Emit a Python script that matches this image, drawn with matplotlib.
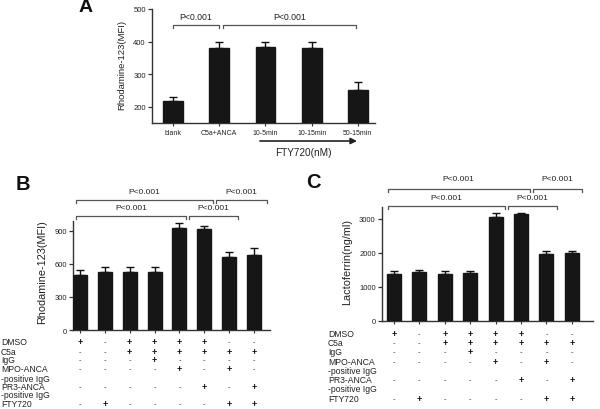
import matplotlib
matplotlib.use("Agg")
import matplotlib.pyplot as plt
from matplotlib.transforms import blended_transform_factory as btf

plt.rcParams['font.family'] = ['Liberation Sans', 'DejaVu Sans']

W, H = 600, 410

# ---------------- data ----------------
a_labels = ['blank', 'C5a+ANCA', '10-5min', '10-15min', '50-15min']
a_means = [218, 380, 384, 379, 252]
a_err = [13, 20, 16, 21, 23]

b_means = [501, 529, 529, 523, 930, 921, 663, 684]
b_err = [40, 42, 42, 45, 46, 24, 45, 61]

c_means = [1390, 1430, 1390, 1420, 3070, 3150, 1980, 1990]
c_err = [70, 80, 70, 60, 100, 30, 80, 70]

row_labels = ['DMSO', 'C5a', 'IgG', 'MPO-ANCA', '-positive IgG', 'PR3-ANCA', '-positive IgG', 'FTY720']
row_signs = [
    ['+', '-', '+', '+', '+', '+', '-', '-'],
    ['-', '-', '+', '+', '+', '+', '+', '+'],
    ['-', '-', '-', '+', '-', '-', '-', '-'],
    ['-', '-', '-', '-', '+', '-', '+', '-'],
    None,
    ['-', '-', '-', '-', '-', '+', '-', '+'],
    None,
    ['-', '+', '-', '-', '-', '-', '+', '+'],
]

p_text = 'P<0.001'
# brackets: (x_start, x_end, y_line, y_tip, y_text)
a_brackets = [(0.0, 1.0, 452, 443, 478), (1.08, 3.96, 452, 443, 478)]
b_brackets = [(-0.15, 5.35, 1179, 1150, 1262), (-0.15, 4.25, 1033, 1005, 1110),
              (4.4, 6.35, 1033, 1005, 1110), (5.47, 7.5, 1179, 1150, 1262)]
c_brackets = [(-0.25, 5.35, 3877, 3790, 4180), (-0.25, 4.37, 3374, 3290, 3625),
              (4.49, 6.42, 3374, 3290, 3625), (5.47, 7.4, 3877, 3790, 4180)]

BAR = '#161616'
TXT = '#222222'


def rect(l, t, r, b):
    return [l / W, 1 - b / H, (r - l) / W, (b - t) / H]


fig = plt.figure(figsize=(W / 100, H / 100), dpi=100)
fig.patch.set_facecolor('white')


def style(ax):
    for s in ['top', 'right']:
        ax.spines[s].set_visible(False)
    for s in ['left', 'bottom']:
        ax.spines[s].set_linewidth(1.0)
        ax.spines[s].set_color('#333333')
    ax.tick_params(axis='y', direction='out', length=3, width=0.9, colors='#333333',
                   labelsize=5.5, labelcolor=TXT, pad=1.5)
    ax.tick_params(axis='x', direction='inout', length=4, width=0.8, colors='#333333',
                   labelsize=5, labelcolor=TXT, pad=2)


def bars(ax, means, err, width):
    x = list(range(len(means)))
    ax.errorbar(x, means, yerr=[[0] * len(means), err], fmt='none', ecolor='#111111',
                elinewidth=1.0, capsize=2.8, capthick=1.0, zorder=2)
    ax.bar(x, means, width=width, color=BAR, edgecolor=BAR, zorder=3)


def brackets(ax, brs, fs=6):
    for x0, x1, yl, yt, ytx in brs:
        ax.plot([x0, x0, x1, x1], [yt, yl, yl, yt], color='#555555', lw=0.9,
                clip_on=False, zorder=4)
        ax.text((x0 + x1) / 2, ytx, p_text, ha='center', va='center', fontsize=fs,
                color=TXT, clip_on=False)


def sign_text(ax, tr, i, y, s):
    if s == '+':
        ax.text(i, y, s, transform=tr, ha='center', va='center', fontsize=6.5,
                fontweight='bold', color='#111111', clip_on=False)
    else:
        ax.text(i, y, s, transform=tr, ha='center', va='center', fontsize=5.5,
                color='#333333', clip_on=False)


# ---------------- Panel A ----------------
axA = fig.add_axes(rect(152, 10, 375, 124))
style(axA)
bars(axA, a_means, a_err, 0.43)
axA.set_xlim(-0.454, 4.37)
axA.set_ylim(150, 500)
axA.set_yticks([200, 300, 400, 500])
axA.set_xticks(range(len(a_labels)))
axA.set_xticklabels(a_labels)
brackets(axA, a_brackets, fs=6.3)
fig.text(122 / W, 1 - 65 / H, 'Rhodamine-123(MFI)', rotation=90, ha='center', va='center',
         fontsize=6.8, color=TXT)
axA.annotate('', xy=(3.98, 1 - 142 / H), xytext=(1.88, 1 - 142 / H),
             xycoords=('data', 'figure fraction'), textcoords=('data', 'figure fraction'),
             arrowprops=dict(arrowstyle='-|>', color='#222222', lw=1.2,
                             mutation_scale=9, shrinkA=0, shrinkB=0))
fig.text(303 / W, 1 - 153 / H, 'FTY720(nM)', ha='center', va='center', fontsize=7.2, color=TXT)
fig.text(86 / W, 1 - 8 / H, 'A', ha='center', va='center', fontsize=14, fontweight='bold',
         color='#111111')

# ---------------- Panel B ----------------
axB = fig.add_axes(rect(73, 222, 270, 331))
style(axB)
bars(axB, b_means, b_err, 0.56)
axB.set_xlim(-0.28, 7.64)
axB.set_ylim(0, 990)
axB.set_yticks([0, 300, 600, 900])
axB.set_xticks(range(len(b_means)))
axB.set_xticklabels([])
brackets(axB, b_brackets)
fig.text(42 / W, 1 - 272 / H, 'Rhodamine-123(MFI)', rotation=90, ha='center', va='center',
         fontsize=7.8, color=TXT)
fig.text(23 / W, 1 - 185 / H, 'B', ha='center', va='center', fontsize=14.5, fontweight='bold',
         color='#111111')

b_rows_y = [343, 352.7, 361, 370, 379.3, 387.3, 396, 405]
trB = btf(axB.transData, fig.transFigure)
for lab, signs, yp in zip(row_labels, row_signs, b_rows_y):
    fig.text(1 / W, 1 - yp / H, lab, ha='left', va='center', fontsize=6.2, color=TXT)
    if signs:
        for i, s in enumerate(signs):
            sign_text(axB, trB, i, 1 - yp / H, s)

# ---------------- Panel C ----------------
axC = fig.add_axes(rect(382, 208, 593, 322))
style(axC)
bars(axC, c_means, c_err, 0.55)
axC.set_xlim(-0.47, 7.83)
axC.set_ylim(0, 3350)
axC.set_yticks([0, 1000, 2000, 3000])
axC.set_xticks(range(len(c_means)))
axC.set_xticklabels([])
brackets(axC, c_brackets)
fig.text(347 / W, 1 - 262 / H, 'Lactoferrin(ng/ml)', rotation=90, ha='center', va='center',
         fontsize=7.8, color=TXT)
fig.text(313 / W, 1 - 183 / H, 'C', ha='center', va='center', fontsize=14.5, fontweight='bold',
         color='#111111')

c_rows_y = [335, 344, 352.7, 362.3, 371.7, 381, 390, 400]
trC = btf(axC.transData, fig.transFigure)
for lab, signs, yp in zip(row_labels, row_signs, c_rows_y):
    fig.text(328 / W, 1 - yp / H, lab, ha='left', va='center', fontsize=6.2, color=TXT)
    if signs:
        for i, s in enumerate(signs):
            sign_text(axC, trC, i, 1 - yp / H, s)

fig.savefig('out.png', dpi=100, facecolor='white')
